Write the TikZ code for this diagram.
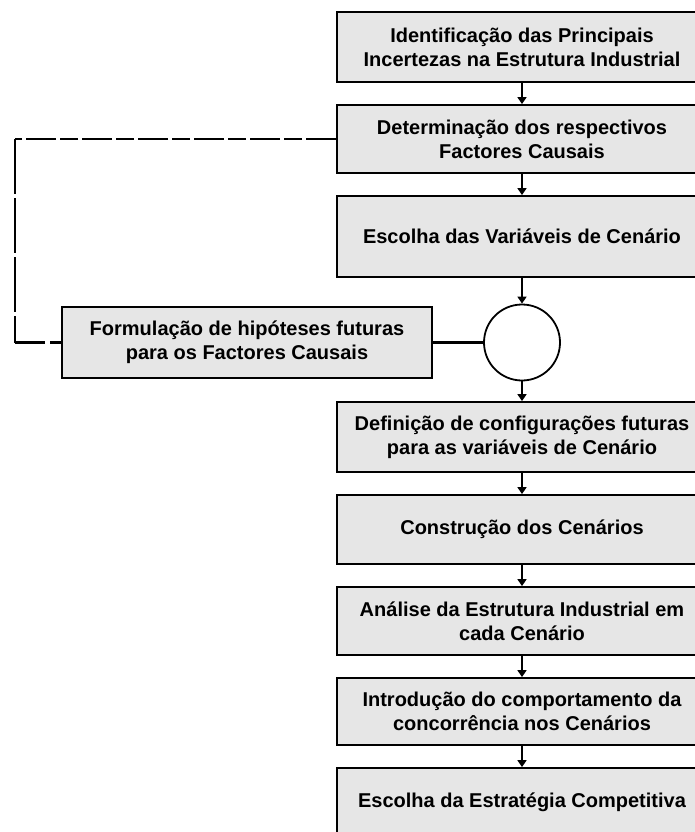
\documentclass[tikz,border=0pt]{standalone}
\usepackage{fontspec}
\setmainfont{Liberation Sans}
\usetikzlibrary{arrows.meta}
\definecolor{boxgray}{RGB}{230,230,230}
\tikzset{
  procbox/.style={draw=black, line width=1.8pt, fill=boxgray, rectangle, minimum width=370pt, align=center, font=\fontsize{20}{24}\selectfont\bfseries, inner sep=0pt},
  flow/.style={line width=1.6pt, -{Triangle[width=9pt,length=7pt]}},
  link/.style={line width=2.8pt},
  feedbackh/.style={line width=1.8pt, dash pattern=on 30pt off 4pt on 18pt off 4pt},
  feedbackv/.style={line width=1.8pt, dash pattern=on 55pt off 4pt}
}
\begin{document}
\begin{tikzpicture}[x=1pt,y=-1pt]
\useasboundingbox (0,0) rectangle (695,832);
\clip (0,0) rectangle (695,832);
\node[procbox, minimum height=70pt] (b1) at (522,47) {Identificação das Principais\\Incertezas na Estrutura Industrial};
\node[procbox, minimum height=68pt] (b2) at (522,139) {Determinação dos respectivos\\Factores Causais};
\node[procbox, minimum height=81pt] (b3) at (522,236.5) {Escolha das Variáveis de Cenário};
\node[draw=black, line width=1.8pt, fill=white, circle, minimum size=76pt, inner sep=0pt] (c) at (522,342.5) {};
\node[procbox, minimum height=71pt] (f) at (247,342.5) {Formulação de hipóteses futuras\\para os Factores Causais};
\node[procbox, minimum height=70pt] (b4) at (522,437) {Definição de configurações futuras\\para as variáveis de Cenário};
\node[procbox, minimum height=69pt] (b5) at (522,529.5) {Construção dos Cenários};
\node[procbox, minimum height=68pt] (b6) at (522,621) {Análise da Estrutura Industrial em\\cada Cenário};
\node[procbox, minimum height=67pt] (b7) at (522,711.5) {Introdução do comportamento da\\concorrência nos Cenários};
\node[procbox, minimum height=68pt] (b8) at (522,802) {Escolha da Estratégia Competitiva};
\coordinate (ctl) at (15,139);
\coordinate (cbl) at (15,342.5);
\coordinate (cbm) at (45,342.5);
\coordinate (cbd) at (50,342.5);
\draw[flow] (b1) -- (b2);
\draw[flow] (b2) -- (b3);
\draw[flow] (b3) -- (c);
\draw[flow] (c) -- (b4);
\draw[flow] (b4) -- (b5);
\draw[flow] (b5) -- (b6);
\draw[flow] (b6) -- (b7);
\draw[flow] (b7) -- (b8);
\draw[link] (f.east) -- (c.west);
\draw[feedbackh] (b2.west) -- (ctl);
\draw[feedbackv] (ctl) -- (cbl);
\draw[line width=2.6pt] (cbl) -- (cbm);
\draw[line width=2.6pt] (cbd) -- (f.west);
\end{tikzpicture}
\end{document}
